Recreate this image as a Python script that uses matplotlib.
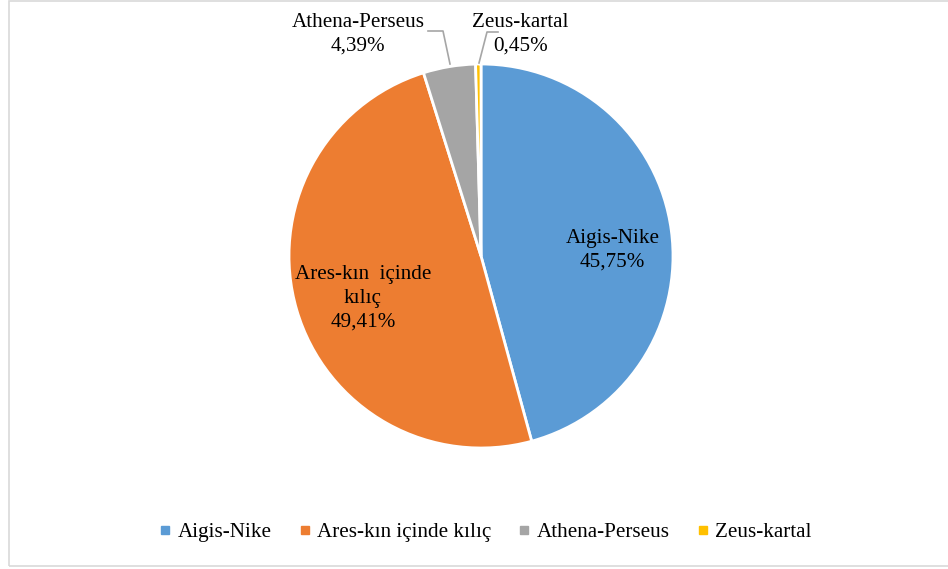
import matplotlib.pyplot as plt
from matplotlib.lines import Line2D
from matplotlib.patches import Rectangle

# data
labels = ['Aigis-Nike', 'Ares-kın içinde kılıç', 'Athena-Perseus', 'Zeus-kartal']
label_text = ['Aigis-Nike', 'Ares-kın  içinde\nkılıç', 'Athena-Perseus', 'Zeus-kartal']
shares = [45.75, 49.41, 4.39, 0.45]
colors = ['#5B9BD5', '#ED7D31', '#A5A5A5', '#FFC000']

plt.rcParams['font.family'] = ['Liberation Serif', 'DejaVu Serif']

W, H = 948, 569
fig = plt.figure(figsize=(W / 100, H / 100), dpi=100)

# light frame around the chart area (right side runs off the image)
fig.patches.append(Rectangle((9 / W, 3 / H), 960 / W, 565 / H, transform=fig.transFigure,
                             fill=False, edgecolor='#D9D9D9', linewidth=1.2))

cx, cy, r = 481, 256, 192
ax = fig.add_axes([(cx - r) / W, (H - cy - r) / H, 2 * r / W, 2 * r / H])
ax.pie(shares, colors=colors, startangle=90, counterclock=False, radius=1,
       wedgeprops=dict(edgecolor='white', linewidth=2))
ax.set_xlim(-1, 1)
ax.set_ylim(-1, 1)
ax.set_axis_off()

def pct(v):
    return ('%.2f%%' % v).replace('.', ',')

# label positions in axes data units (radius = 1)
pos = [(0.685, 0.03), (-0.615, -0.22), (-0.64, 1.154), (0.205, 1.154)]
for txt, v, (x, y) in zip(label_text, shares, pos):
    ax.text(x, y, txt + '\n' + pct(v), ha='center', va='center', fontsize=15.2,
            color='#000000', linespacing=1.33, clip_on=False)

def px(x, y):
    return ((x - cx) / r, (cy - y) / r)

# leader lines for the two small slices
for pts in ([(428, 31), (443, 31), (450, 64)], [(498, 32), (487, 32), (479, 63)]):
    xs, ys = zip(*[px(*p) for p in pts])
    ax.plot(xs, ys, color='#A6A6A6', linewidth=1.2, clip_on=False)

handles = [Line2D([], [], linestyle='none', marker='s', markersize=5.5,
                  markerfacecolor=c, markeredgecolor=c) for c in colors]
fig.legend(handles, labels, loc='center', bbox_to_anchor=(486 / W, 1 - 532 / H), ncol=4,
           frameon=False, fontsize=15.2, handlelength=0.5, handletextpad=0.35,
           columnspacing=1.3)

fig.savefig('out.png', dpi=100)
